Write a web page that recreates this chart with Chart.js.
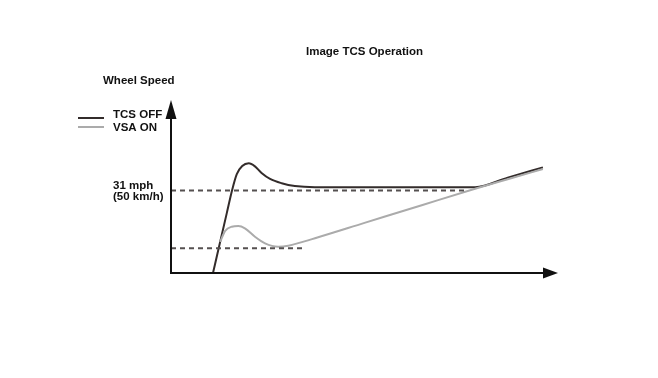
<!DOCTYPE html>
<html><head><meta charset="utf-8">
<script src="https://cdn.jsdelivr.net/npm/chart.js@4"></script>
<style>html,body{margin:0;padding:0;background:#fff}#wrap{width:658px;height:378px}</style>
</head><body><div id="wrap"><canvas id="c" width="658" height="378"></canvas></div>
<script>
// time (arbitrary units) and wheel speed (km/h)
const tcsOffX = [10.85, 12.2, 14.4, 15.8, 17.0, 18.4, 20.1, 21.7, 23.4, 25.6, 28.6, 32.0, 37.2, 60.0, 78.6, 87.0, 96.1];
const tcsOffY = [0, 13.8, 36.2, 50.4, 60.0, 64.9, 66.6, 64.7, 60.7, 57.1, 54.5, 52.8, 52.1, 52.1, 52.1, 57.9, 64.1];
const vsaOnX = [12.7, 14.0, 15.7, 17.4, 19.1, 21.7, 24.3, 27.7, 30.3, 37.2, 50.0, 65.0, 79.0, 87.0, 96.1];
const vsaOnY = [18.9, 25.6, 28.1, 28.5, 27.1, 22.0, 18.0, 16.0, 16.6, 21.1, 30.4, 41.3, 51.4, 56.9, 63.1];
const targetSpeed = 50;      // 31 mph (50 km/h)
const targetEnd = 76.7;
const lowSpeed = 15.0;
const lowEnd = 34.6;
const seriesNames = ['TCS OFF', 'VSA ON'];
const titleText = 'Image TCS Operation';
const yAxisTitle = 'Wheel Speed';
const targetLabel = ['31 mph', '(50 km/h)'];

const pts = (xs, ys) => xs.map((x, i) => ({x, y: ys[i]}));
const darkCol = '#332c2b', grayCol = '#ababab', dashCol = '#555050';

const overlay = {
  id: 'overlay',
  afterDraw(chart) {
    const {ctx, scales: {x, y}} = chart;
    const x0 = x.getPixelForValue(0), y0 = y.getPixelForValue(0);
    const yTop = y.getPixelForValue(y.max), xEnd = x.getPixelForValue(x.max);
    ctx.save();
    ctx.strokeStyle = '#111'; ctx.fillStyle = '#111'; ctx.lineWidth = 2;
    ctx.beginPath(); ctx.moveTo(x0, y0 + 1); ctx.lineTo(x0, yTop + 10); ctx.stroke();
    ctx.beginPath(); ctx.moveTo(x0 - 1, y0); ctx.lineTo(xEnd - 10, y0); ctx.stroke();
    ctx.beginPath(); ctx.moveTo(x0, yTop); ctx.lineTo(x0 - 5.5, yTop + 19); ctx.lineTo(x0 + 5.5, yTop + 19); ctx.closePath(); ctx.fill();
    ctx.beginPath(); ctx.moveTo(xEnd, y0); ctx.lineTo(xEnd - 15, y0 - 5.5); ctx.lineTo(xEnd - 15, y0 + 5.5); ctx.closePath(); ctx.fill();
    ctx.fillStyle = '#111';
    ctx.font = 'bold 11.5px "Liberation Sans", Arial, sans-serif';
    ctx.textBaseline = 'middle';
    ctx.textAlign = 'center';
    ctx.fillText(titleText, 364.5, 52);
    ctx.textAlign = 'left';
    ctx.fillText(yAxisTitle, 103, 81);
    const ty = y.getPixelForValue(targetSpeed);
    ctx.fillText(targetLabel[0], 113, ty - 5);
    ctx.fillText(targetLabel[1], 113, ty + 6);
    // legend
    ctx.fillText(seriesNames[0], 113, 115);
    ctx.fillText(seriesNames[1], 113, 128);
    ctx.lineWidth = 2;
    ctx.strokeStyle = darkCol; ctx.beginPath(); ctx.moveTo(78, 118); ctx.lineTo(104, 118); ctx.stroke();
    ctx.strokeStyle = grayCol; ctx.beginPath(); ctx.moveTo(78, 127); ctx.lineTo(104, 127); ctx.stroke();
    ctx.restore();
  }
};

new Chart(document.getElementById('c'), {
  type: 'scatter',
  data: {
    datasets: [
      {label: 'target', data: [{x: 0, y: targetSpeed}, {x: targetEnd, y: targetSpeed}], showLine: true, borderColor: dashCol, borderWidth: 2, borderDash: [5, 4], pointRadius: 0},
      {label: 'low', data: [{x: 0, y: lowSpeed}, {x: lowEnd, y: lowSpeed}], showLine: true, borderColor: dashCol, borderWidth: 2, borderDash: [5, 4], pointRadius: 0},
      {label: seriesNames[1], data: pts(vsaOnX, vsaOnY), showLine: true, borderColor: grayCol, borderWidth: 2, pointRadius: 0, cubicInterpolationMode: 'monotone'},
      {label: seriesNames[0], data: pts(tcsOffX, tcsOffY), showLine: true, borderColor: darkCol, borderWidth: 2, pointRadius: 0, cubicInterpolationMode: 'monotone'}
    ]
  },
  options: {
    responsive: false, animation: false,
    layout: {padding: {left: 171, right: 100, top: 100, bottom: 105}},
    scales: {
      x: {type: 'linear', min: 0, max: 100, display: false},
      y: {type: 'linear', min: 0, max: 105, display: false}
    },
    plugins: {legend: {display: false}, title: {display: false}, tooltip: {enabled: false}}
  },
  plugins: [overlay]
});
</script></body></html>
